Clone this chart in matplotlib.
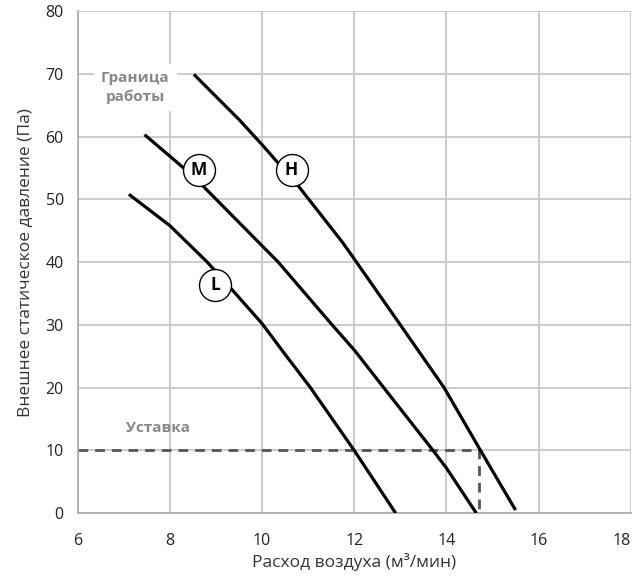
import matplotlib
matplotlib.use("Agg")
import matplotlib.pyplot as plt

plt.rcParams['font.family'] = ['Open Sans', 'DejaVu Sans']

# fan curves: airflow (m3/min) vs external static pressure (Pa)
l_flow = [7.11, 8.0, 8.81, 9.35, 10.0, 10.52, 11.05, 12.0, 12.9]
l_pres = [50.8, 45.8, 40.0, 35.6, 30.2, 25.1, 20.0, 10.0, 0.0]
m_flow = [7.45, 8.28, 8.72, 10.0, 10.35, 11.52, 12.0, 12.64, 13.71, 14.0, 14.65]
m_pres = [60.3, 55.1, 52.1, 42.6, 40.0, 30.0, 26.0, 20.0, 10.0, 7.2, 0.0]
h_flow = [8.52, 9.5, 10.0, 10.31, 10.79, 11.75, 12.0, 13.0, 13.95, 14.74, 15.5]
h_pres = [69.9, 62.7, 58.7, 56.1, 52.1, 43.1, 40.5, 30.0, 20.0, 10.0, 0.5]

# speed badges placed on the curves
badge_names = ["L", "M", "H"]
badge_flow = [8.98, 8.63, 10.64]
badge_pres = [36.4, 54.7, 54.7]

# set point
set_pres = 10
set_flow = 14.7

xticks = [6, 8, 10, 12, 14, 16, 18]
yticks = [0, 10, 20, 30, 40, 50, 60, 70, 80]

fig = plt.figure(figsize=(6.32, 5.76), dpi=100)
ax = fig.add_axes([0.123, 0.109, 0.875, 0.872])

for fl, pr in [(l_flow, l_pres), (m_flow, m_pres), (h_flow, h_pres)]:
    ax.plot(fl, pr, color="black", lw=2.3, solid_capstyle="butt",
            solid_joinstyle="round", zorder=3)

ax.plot([xticks[0], set_flow, set_flow], [set_pres, set_pres, 0],
        color="#555555", lw=2, ls=(0, (3.5, 2.5)), zorder=2.5)

for name, fx, py in zip(badge_names, badge_flow, badge_pres):
    ax.plot(fx, py, marker="o", ms=23, mfc="white", mec="black", mew=1.0, zorder=4)
    ax.text(fx, py, name, ha="center", va="center", fontsize=12.5,
            fontweight="bold", color="black", zorder=5)

ax.text(7.25, 67.8, "Граница\nработы", ha="center", va="center", fontsize=11,
        fontweight="bold", color="#888888", linespacing=1.35, zorder=2.8,
        bbox=dict(boxstyle="square,pad=0.45", fc="white", ec="none"))
ax.text(7.74, 13.5, "Уставка", ha="center", va="center", fontsize=11,
        fontweight="bold", color="#888888", zorder=2.8)

ax.set_xlim(6, 18)
ax.set_ylim(0, 80)
ax.set_xticks(xticks)
ax.set_yticks(yticks)
ax.grid(True, color="#c4c4c4", lw=1.2)
ax.set_axisbelow(True)
for s in ["top", "right"]:
    ax.spines[s].set_visible(False)
for s in ["left", "bottom"]:
    ax.spines[s].set_color("#aaaaaa")
    ax.spines[s].set_linewidth(1.2)
ax.tick_params(length=0, labelsize=11.5, colors="#222222")
ax.tick_params(axis="x", pad=14)
ax.tick_params(axis="y", pad=10)
ax.get_xticklabels()[-1].set_ha("right")
ax.set_xlabel("Расход воздуха (м³/мин)", fontsize=12.5, color="#333333", labelpad=3)
ax.set_ylabel("Внешнее статическое давление (Па)", fontsize=12.5, color="#333333",
              labelpad=9)

fig.savefig("out.png", dpi=100)
